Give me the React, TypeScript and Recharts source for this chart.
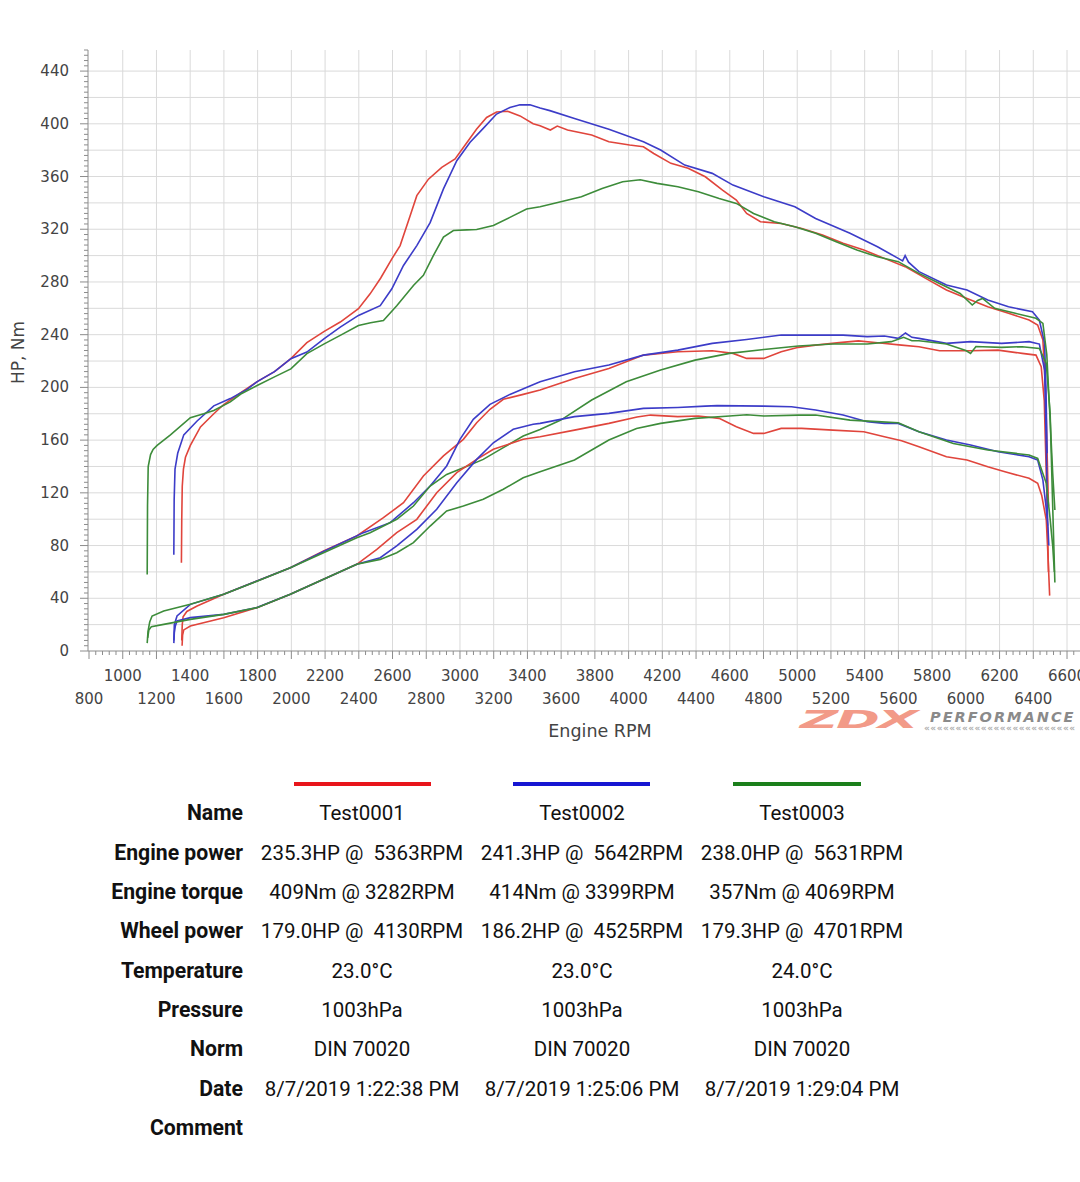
import React from 'react';
import { LineChart, Line, XAxis, YAxis, CartesianGrid } from 'recharts';

// ---- data: [rpm, value] pairs ----
const t1Torque: number[][] = [
  [1348, 67], [1350, 100], [1353, 125], [1360, 138], [1372, 147], [1401, 156], [1461, 170], [1540, 180],
  [1599, 187], [1700, 196], [1800, 204.6], [1900, 212], [1997, 221.8], [2092, 234], [2195, 242.5],
  [2290, 249.6], [2398, 259.7], [2467, 271], [2530, 283], [2596, 297.5], [2645, 307.6], [2704, 330],
  [2744, 345.5], [2813, 358], [2892, 367], [2971, 373.3], [3020, 382], [3099, 396], [3158, 404.8],
  [3217, 409], [3282, 409.5], [3356, 406], [3434, 400], [3475, 398.5], [3536, 395.3], [3577, 398.3],
  [3638, 395.3], [3781, 391.5], [3883, 386.4], [4006, 383.9], [4088, 382.6], [4149, 377.5], [4251, 370],
  [4353, 366.2], [4455, 359.8], [4557, 349.7], [4639, 342.1], [4700, 332], [4782, 325.7], [4905, 324.4],
  [5027, 320.6], [5150, 315.6], [5272, 309.3], [5395, 304.2], [5517, 297.9], [5640, 291.6], [5762, 282.7],
  [5885, 273.9], [6007, 267.5], [6130, 261.2], [6253, 256.2], [6375, 251.1], [6426, 247.3], [6457, 235.9],
  [6472, 200], [6482, 150], [6490, 110],
];
const t2Torque: number[][] = [
  [1303, 73], [1305, 115], [1310, 138], [1326, 150], [1362, 164], [1441, 174.5], [1540, 186], [1638, 191.5],
  [1737, 198.5], [1800, 204.6], [1900, 212], [1997, 221.8], [2092, 226.8], [2195, 237], [2290, 245.8],
  [2398, 254.6], [2527, 262], [2596, 274.8], [2665, 292.5], [2744, 307.6], [2823, 325], [2902, 350.6],
  [2981, 372], [3060, 386], [3138, 396.5], [3217, 407.4], [3296, 412.4], [3356, 414.4], [3415, 414.4],
  [3475, 412], [3533, 410], [3679, 404.1], [3883, 395.8], [4088, 386.4], [4190, 380.1], [4333, 368.7],
  [4496, 362.4], [4619, 353.5], [4802, 344.7], [4986, 337.1], [5109, 328.2], [5313, 316.9], [5476, 306.7],
  [5599, 297.9], [5625, 296], [5640, 300], [5660, 295], [5722, 287.8], [5885, 277.7], [6007, 273.9],
  [6130, 266.3], [6253, 261.2], [6395, 257.4], [6436, 251.1], [6467, 233.4], [6475, 200], [6482, 150],
];
const t3Torque: number[][] = [
  [1145, 58], [1147, 110], [1151, 140], [1165, 149], [1180, 153], [1204, 156], [1283, 164], [1401, 177],
  [1480, 180], [1540, 182.5], [1638, 189], [1700, 195], [1800, 201.6], [1900, 208], [1997, 214],
  [2092, 225.6], [2195, 233], [2290, 239.5], [2398, 247], [2470, 249], [2546, 250.8], [2625, 262],
  [2724, 277.3], [2783, 285], [2842, 300], [2902, 314], [2961, 319], [3040, 319.5], [3099, 319.8],
  [3198, 322.8], [3296, 329], [3395, 335.4], [3475, 337.1], [3598, 340.9], [3720, 344.7], [3843, 351],
  [3965, 356.1], [4069, 357.5], [4169, 354.8], [4292, 352.3], [4414, 348.5], [4537, 343.4], [4639, 339.6],
  [4741, 332], [4864, 325.7], [4986, 321.9], [5109, 316.9], [5231, 310.5], [5354, 304.2], [5476, 299.1],
  [5599, 295.4], [5722, 286.5], [5844, 278.9], [5966, 271.3], [6038, 262.5], [6070, 266], [6099, 267.5],
  [6171, 260], [6293, 256.2], [6416, 252.4], [6457, 248.6], [6480, 225], [6500, 175], [6515, 135], [6528, 107],
];
const t1Power: number[][] = [
  [1350, 8], [1353, 20], [1358, 26], [1380, 30], [1441, 34.1], [1599, 43], [1796, 53.1], [1994, 63.2],
  [2191, 75.9], [2388, 87.3], [2546, 101.2], [2665, 112.5], [2783, 132.8], [2902, 148], [3020, 160.6],
  [3099, 173.2], [3178, 183.4], [3257, 191], [3375, 194.7], [3475, 198], [3679, 206.8], [3883, 214.4],
  [4088, 224.5], [4292, 227.1], [4496, 227.8], [4619, 225.8], [4700, 222], [4802, 222], [4905, 227.1],
  [5007, 230.4], [5109, 232.1], [5250, 234], [5363, 235.3], [5476, 233.9], [5619, 232.1], [5722, 230.9],
  [5844, 227.8], [6028, 227.8], [6191, 228.3], [6334, 225.8], [6416, 224.5], [6447, 215.7], [6465, 190],
  [6480, 120], [6490, 60],
];
const t2Power: number[][] = [
  [1303, 8], [1306, 20], [1322, 26.6], [1401, 35.4], [1599, 43], [1796, 53.1], [1994, 63.2], [2191, 75.5],
  [2428, 89.8], [2586, 97.4], [2724, 112.5], [2823, 125.2], [2921, 140.4], [3000, 160.6], [3079, 175.8],
  [3178, 187.1], [3296, 194.7], [3415, 201], [3475, 204.3], [3679, 211.9], [3883, 217], [4088, 224.5],
  [4292, 228.3], [4496, 233.4], [4700, 236.4], [4905, 239.7], [5109, 239.7], [5272, 239.7], [5415, 238.5],
  [5517, 239], [5599, 237.2], [5642, 241.3], [5680, 238], [5722, 237.2], [5885, 233.4], [6028, 234.7],
  [6212, 233.4], [6375, 234.7], [6436, 232.9], [6467, 213.2], [6478, 150], [6485, 95],
];
const t3Power: number[][] = [
  [1145, 6], [1150, 15], [1160, 22], [1174, 26.5], [1243, 30.3], [1401, 35.4], [1599, 43], [1796, 53],
  [1994, 63.2], [2191, 74.6], [2388, 86], [2467, 89.8], [2625, 99.9], [2724, 110], [2823, 125.2],
  [2921, 134], [3020, 139.1], [3138, 145.4], [3257, 154.3], [3375, 163.1], [3475, 168], [3598, 175.2],
  [3781, 190.4], [3986, 204.3], [4190, 213.2], [4394, 220.7], [4598, 225.8], [4802, 228.8], [5007, 231.4],
  [5211, 232.9], [5415, 232.9], [5558, 234.7], [5631, 238], [5680, 235.4], [5722, 235.4], [5885, 232.9],
  [6000, 228], [6028, 225.8], [6060, 231], [6099, 230.9], [6212, 230.4], [6334, 230.9], [6436, 229.6],
  [6477, 218.2], [6500, 180], [6515, 110], [6528, 52],
];
const t1Wheel: number[][] = [
  [1352, 4], [1355, 12], [1362, 16], [1401, 19], [1599, 25.3], [1796, 32.9], [1994, 43], [2191, 54.4],
  [2388, 65.8], [2507, 77.1], [2625, 89.8], [2744, 99.9], [2862, 120.1], [2981, 135.3], [3099, 145.4],
  [3198, 153], [3375, 160.6], [3475, 162.6], [3679, 167.6], [3883, 172.7], [4050, 177.5], [4130, 179],
  [4292, 177.8], [4414, 178.3], [4537, 176.5], [4639, 170.2], [4741, 165.1], [4802, 165.1], [4905, 168.9],
  [5027, 168.9], [5211, 167.6], [5395, 166.4], [5517, 162.6], [5619, 159.5], [5722, 155], [5885, 147.4],
  [6007, 144.9], [6130, 139.8], [6232, 136], [6375, 131], [6426, 127.2], [6450, 118], [6477, 99.4],
  [6488, 70], [6497, 42],
];
const t2Wheel: number[][] = [
  [1303, 6], [1306, 14], [1312, 19], [1322, 22.8], [1401, 25.3], [1599, 27.8], [1796, 33], [1994, 43],
  [2191, 54.4], [2388, 65.8], [2527, 70.8], [2625, 79.7], [2744, 92.3], [2862, 107.5], [2981, 127.7],
  [3099, 145.4], [3198, 158], [3316, 168.2], [3434, 172], [3475, 172.7], [3679, 177.8], [3883, 180.3],
  [4088, 184.1], [4292, 184.8], [4455, 185.8], [4525, 186.2], [4802, 185.8], [4966, 185.3], [5109, 182.8],
  [5272, 179], [5415, 174], [5517, 172.7], [5599, 172.7], [5722, 166.4], [5885, 160.1], [6028, 156.3],
  [6191, 151.2], [6375, 147.4], [6426, 144.9], [6457, 129.7], [6475, 110], [6487, 94.3], [6492, 80],
];
const t3Wheel: number[][] = [
  [1148, 10], [1155, 16], [1170, 18.5], [1243, 20.2], [1401, 24], [1599, 27.8], [1796, 32.9], [1994, 43],
  [2191, 54.4], [2388, 65.8], [2527, 69.5], [2625, 74.6], [2724, 82.2], [2823, 94.8], [2921, 106.2],
  [3020, 110], [3138, 115.1], [3257, 122.7], [3375, 131.5], [3475, 136], [3679, 144.9], [3883, 160.1],
  [4047, 168.9], [4190, 172.7], [4394, 176.5], [4598, 178.3], [4701, 179.3], [4802, 178.3], [5007, 179],
  [5109, 179], [5313, 175.2], [5476, 174], [5599, 173.2], [5722, 166.4], [5926, 157.5], [6130, 152.5],
  [6375, 148.7], [6426, 146.1], [6477, 127.2], [6500, 100], [6515, 80], [6525, 60],
];

// ---- axes ----
const xLabelTicks = [800, 1000, 1200, 1400, 1600, 1800, 2000, 2200, 2400, 2600, 2800, 3000, 3200, 3400, 3600,
  3800, 4000, 4200, 4400, 4600, 4800, 5000, 5200, 5400, 5600, 5800, 6000, 6200, 6400, 6600];
const gridX = xLabelTicks.filter((v) => v > 800);
const gridY = [20, 40, 60, 80, 100, 120, 140, 160, 180, 200, 220, 240, 260, 280, 300, 320, 340, 360, 380, 400, 420, 440];
const xMinorTicks: number[] = [];
for (let v = 800; v <= 6640; v += 40) xMinorTicks.push(v);
const yMinorTicks: number[] = [];
for (let v = 0; v <= 456; v += 4) yMinorTicks.push(v);

// ---- table ----
const rowLabels = ['Name', 'Engine power', 'Engine torque', 'Wheel power', 'Temperature', 'Pressure', 'Norm', 'Date', 'Comment'];
const test1Info = ['Test0001', '235.3HP @  5363RPM', '409Nm @ 3282RPM', '179.0HP @  4130RPM', '23.0°C', '1003hPa', 'DIN 70020', '8/7/2019 1:22:38 PM', ''];
const test2Info = ['Test0002', '241.3HP @  5642RPM', '414Nm @ 3399RPM', '186.2HP @  4525RPM', '23.0°C', '1003hPa', 'DIN 70020', '8/7/2019 1:25:06 PM', ''];
const test3Info = ['Test0003', '238.0HP @  5631RPM', '357Nm @ 4069RPM', '179.3HP @  4701RPM', '24.0°C', '1003hPa', 'DIN 70020', '8/7/2019 1:29:04 PM', ''];

const RED = '#e0453c';
const BLUE = '#3c3cc8';
const GREEN = '#3d8c3a';

const toRows = (pairs: number[][]) => pairs.map(([rpm, v]) => ({ rpm, v }));

const series = [
  { key: 't1t', data: toRows(t1Torque), color: RED },
  { key: 't2t', data: toRows(t2Torque), color: BLUE },
  { key: 't3t', data: toRows(t3Torque), color: GREEN },
  { key: 't1p', data: toRows(t1Power), color: RED },
  { key: 't2p', data: toRows(t2Power), color: BLUE },
  { key: 't3p', data: toRows(t3Power), color: GREEN },
  { key: 't1w', data: toRows(t1Wheel), color: RED },
  { key: 't2w', data: toRows(t2Wheel), color: BLUE },
  { key: 't3w', data: toRows(t3Wheel), color: GREEN },
];

const AXIS = '#8c8c8c';
const TICK_FONT = { fontFamily: 'DejaVu Sans', fontSize: 15, fill: '#444' };

const XTick = (props: any) => {
  const { x, y, payload } = props;
  const v = payload.value;
  const major = v % 200 === 0;
  return (
    <g>
      <line x1={x} y1={y} x2={x} y2={y + (major ? 8 : 4)} stroke={AXIS} strokeWidth={1} />
      {major && (
        <text x={x} y={y + (v % 400 === 0 ? 48 : 25)} textAnchor="middle" dominantBaseline="central" {...TICK_FONT}>
          {v}
        </text>
      )}
    </g>
  );
};

const YTick = (props: any) => {
  const { x, y, payload } = props;
  const v = payload.value;
  const major = v % 40 === 0 && v <= 440;
  return (
    <g>
      <line x1={x} y1={y} x2={x - (major ? 8 : 4)} y2={y} stroke={AXIS} strokeWidth={1} />
      {major && (
        <text x={x - 19} y={y} textAnchor="end" dominantBaseline="central" {...TICK_FONT}>
          {v}
        </text>
      )}
    </g>
  );
};

const YLabel = (props: any) => {
  const vb = props.viewBox || { x: 0, y: 50, width: 88, height: 601 };
  const cx = vb.x + 18;
  const cy = vb.y + vb.height / 2 + 2;
  return (
    <text x={cx} y={cy} transform={`rotate(-90 ${cx} ${cy})`} textAnchor="middle" dominantBaseline="central"
      fontFamily="DejaVu Sans" fontSize={17} fill="#444">
      HP, Nm
    </text>
  );
};

const XLabel = (props: any) => {
  const vb = props.viewBox || { x: 88, y: 651, width: 992, height: 109 };
  const cx = vb.x + 512;
  const cy = vb.y + 80;
  return (
    <text x={cx} y={cy} textAnchor="middle" dominantBaseline="central" fontFamily="DejaVu Sans" fontSize={17.5} fill="#444">
      Engine RPM
    </text>
  );
};

const ROW0 = 813.3;
const ROWSTEP = 39.35;
const COLS = [362, 582, 802];
const tableFont: React.CSSProperties = { fontFamily: 'Roboto', fontSize: 20.5, color: '#111', lineHeight: '24px', whiteSpace: 'pre' };

export default function App() {
  const infos = [test1Info, test2Info, test3Info];
  return (
    <div style={{ position: 'absolute', left: 0, top: 0, width: 1080, height: 1182, background: '#fff', overflow: 'hidden' }}>
      <LineChart width={1080} height={760} margin={{ top: 50, right: 0, bottom: 0, left: 0 }}>
        <CartesianGrid stroke="#dadada" strokeWidth={1} verticalValues={gridX} horizontalValues={gridY} />
        <XAxis
          type="number"
          dataKey="rpm"
          domain={[794, 6677]}
          ticks={xMinorTicks}
          interval={0}
          allowDataOverflow
          tickSize={0}
          tickMargin={0}
          tickLine={false}
          axisLine={{ stroke: AXIS }}
          tick={(p: any) => <XTick {...p} />}
          height={109}
          label={{ content: (p: any) => <XLabel {...p} /> }}
        />
        <YAxis
          type="number"
          domain={[0, 456]}
          ticks={yMinorTicks}
          interval={0}
          allowDataOverflow
          tickSize={0}
          tickMargin={0}
          tickLine={false}
          axisLine={{ stroke: AXIS }}
          tick={(p: any) => <YTick {...p} />}
          width={88}
          label={{ content: (p: any) => <YLabel {...p} /> }}
        />
        {series.map((s) => (
          <Line
            key={s.key}
            data={s.data}
            dataKey="v"
            type="linear"
            stroke={s.color}
            strokeWidth={1.6}
            dot={false}
            activeDot={false}
            isAnimationActive={false}
          />
        ))}
      </LineChart>

      {/* logo */}
      <div style={{ position: 'absolute', left: 800, top: 711, width: 130, height: 18, overflow: 'visible' }}>
        <div style={{ position: 'absolute', left: 0, top: 0, transformOrigin: 'left top', transform: 'scaleX(2.2)',
          fontFamily: 'DejaVu Sans', fontWeight: 900, fontStyle: 'italic', fontSize: 24, lineHeight: '18px',
          color: '#f29a88', letterSpacing: -1 }}>
          ZDX
        </div>
      </div>
      <div style={{ position: 'absolute', left: 930, top: 711, fontFamily: 'DejaVu Sans', fontWeight: 700,
        fontStyle: 'italic', fontSize: 14.5, lineHeight: '12px', color: '#8a8a8a', letterSpacing: 2, whiteSpace: 'nowrap' }}>
        PERFORMANCE
      </div>
      <div style={{ position: 'absolute', left: 924, top: 724, fontFamily: 'DejaVu Sans', fontWeight: 700,
        fontSize: 9, lineHeight: '8px', color: '#b0b0b0', whiteSpace: 'nowrap', letterSpacing: 0.5 }}>
        {'««««««««««««««««««««««««'}
      </div>

      {/* legend lines */}
      <div style={{ position: 'absolute', left: 294, top: 782, width: 137, height: 4, background: '#e8151b' }} />
      <div style={{ position: 'absolute', left: 513, top: 782, width: 137, height: 4, background: '#1616d2' }} />
      <div style={{ position: 'absolute', left: 733, top: 782, width: 128, height: 4, background: '#1b7f1b' }} />

      {/* table */}
      {rowLabels.map((label, i) => (
        <div key={'l' + i} style={{ ...tableFont, fontSize: 21.2, position: 'absolute', right: 1080 - 243, top: ROW0 + i * ROWSTEP - 12, fontWeight: 700, textAlign: 'right' }}>
          {label}
        </div>
      ))}
      {infos.map((info, c) =>
        info.map((txt, i) => (
          <div key={c + '-' + i} style={{ ...tableFont, position: 'absolute', left: COLS[c] - 115, width: 230, top: ROW0 + i * ROWSTEP - 12, textAlign: 'center' }}>
            {txt}
          </div>
        ))
      )}
    </div>
  );
}
